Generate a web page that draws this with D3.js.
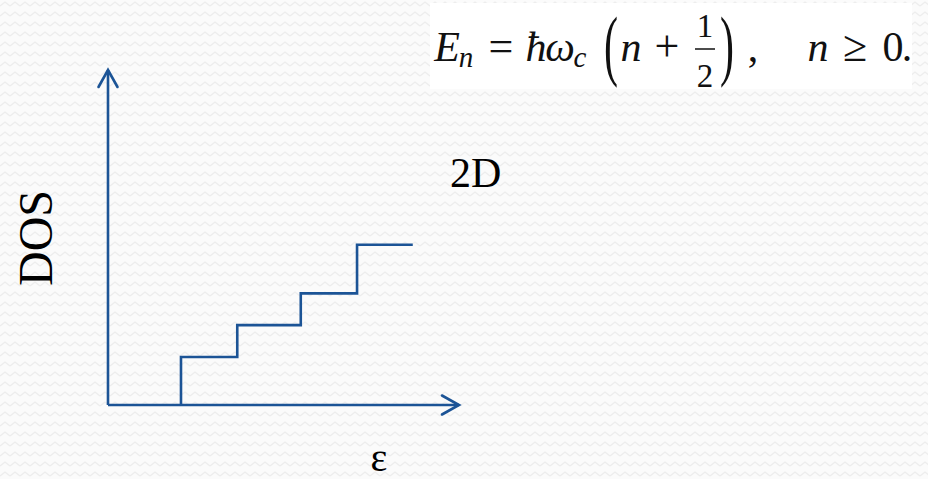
<!DOCTYPE html>
<html lang="en">
<head>
    <meta charset="UTF-8">
    <title>2D density of states - Landau levels</title>
    <script src="https://cdn.jsdelivr.net/npm/d3@7"></script>
    <style>
        html, body { margin: 0; padding: 0; background: #fbfbfb; }
        svg { display: block; }
        .serif { font-family: "Liberation Serif", "DejaVu Serif", serif; }
    </style>
</head>
<body>
<svg id="chart" width="928" height="479"></svg>
<script>
    // data: energy (in units of the x axis) where each Landau level switches on,
    // and the DOS plateau height reached after each step
    const levelEnergy = [1.31, 2.32, 3.46, 4.47];
    const levelDOS = [0.86, 1.43, 2.0, 2.87];
    const stepEnd = 5.47;
    const xMax = 6.3;   // arrow tip of the energy axis
    const yMax = 6.0;   // arrow tip of the DOS axis

    const axisLabelX = "ε";
    const axisLabelY = "DOS";
    const panelLabel = "2D";

    const blue = "#1c5496";
    const W = 928, H = 479;

    const svg = d3.select("#chart");

    // background with the faint zigzag texture
    const defs = svg.append("defs");
    const pat = defs.append("pattern")
        .attr("id", "zig").attr("patternUnits", "userSpaceOnUse")
        .attr("width", 10).attr("height", 10);
    pat.append("rect").attr("width", 10).attr("height", 10).attr("fill", "#fbfbfb");
    pat.append("path").attr("d", "M0,6L5,2L10,6")
        .attr("fill", "none").attr("stroke", "#ededed").attr("stroke-width", 1.3);
    svg.append("rect").attr("width", W).attr("height", H).attr("fill", "url(#zig)");

    // arrow head (open chevron)
    defs.append("marker")
        .attr("id", "arr").attr("markerUnits", "userSpaceOnUse")
        .attr("viewBox", "-22 -14 26 28").attr("markerWidth", 26).attr("markerHeight", 28)
        .attr("refX", 0).attr("refY", 0).attr("orient", "auto")
        .append("path").attr("d", "M-17,-9.5L0,0L-17,9.5")
        .attr("fill", "none").attr("stroke", blue).attr("stroke-width", 2.6)
        .attr("stroke-linecap", "round");

    const x = d3.scaleLinear().domain([0, xMax]).range([108, 459]);
    const y = d3.scaleLinear().domain([0, yMax]).range([405, 70]);

    // axes
    svg.append("line")
        .attr("x1", x(0)).attr("y1", y(0)).attr("x2", x(xMax)).attr("y2", y(0))
        .attr("stroke", blue).attr("stroke-width", 2.6).attr("marker-end", "url(#arr)");
    svg.append("line")
        .attr("x1", x(0)).attr("y1", y(0)).attr("x2", x(0)).attr("y2", y(yMax))
        .attr("stroke", blue).attr("stroke-width", 2.6).attr("marker-end", "url(#arr)");

    // staircase DOS
    const pts = [[levelEnergy[0], 0]];
    levelEnergy.forEach((e, i) => pts.push([e, levelDOS[i]]));
    pts.push([stepEnd, levelDOS[levelDOS.length - 1]]);

    const line = d3.line()
        .x(d => x(d[0])).y(d => y(d[1]))
        .curve(d3.curveStepAfter);
    svg.append("path")
        .attr("d", line(pts))
        .attr("fill", "none").attr("stroke", blue).attr("stroke-width", 2.6)
        .attr("stroke-linejoin", "miter");

    // axis labels
    svg.append("text").attr("class", "serif")
        .attr("transform", "translate(52,238) rotate(-90)")
        .attr("text-anchor", "middle").attr("font-size", 48)
        .text(axisLabelY);
    svg.append("text").attr("class", "serif")
        .attr("x", 379).attr("y", 471).attr("text-anchor", "middle")
        .attr("font-size", 40).text(axisLabelX);
    svg.append("text").attr("class", "serif")
        .attr("x", 450).attr("y", 187).attr("font-size", 42)
        .text(panelLabel);

    // formula box: E_n = ħω_c (n + 1/2),  n ≥ 0.
    svg.append("rect").attr("x", 430).attr("y", 3).attr("width", 482).attr("height", 86)
        .attr("fill", "#ffffff");
    const f = svg.append("g").attr("class", "serif").attr("fill", "#111");
    const glyphs = [
        {t: "E", x: 447, y: 61, s: 42, it: true},
        {t: "n", x: 466, y: 67, s: 29, it: true},
        {t: "=", x: 501, y: 61, s: 44},
        {t: "ħ", x: 536, y: 61, s: 42, it: true},
        {t: "ω", x: 560, y: 61, s: 42, it: true},
        {t: "c", x: 580, y: 67, s: 29, it: true},
        {t: "n", x: 631, y: 61, s: 42, it: true},
        {t: "+", x: 667, y: 61, s: 44},
        {t: "1", x: 705, y: 37, s: 33},
        {t: "2", x: 705, y: 87, s: 33},
        {t: ",", x: 753, y: 61, s: 42},
        {t: "n", x: 818, y: 61, s: 42, it: true},
        {t: "≥", x: 855, y: 61, s: 44},
        {t: "0", x: 893, y: 61, s: 42},
        {t: ".", x: 907, y: 61, s: 42}
    ];
    f.selectAll("text.g").data(glyphs).join("text")
        .attr("class", "g")
        .attr("x", d => d.x).attr("y", d => d.y)
        .attr("text-anchor", "middle").attr("font-size", d => d.s)
        .attr("font-style", d => d.it ? "italic" : "normal")
        .text(d => d.t);
    // tall parentheses
    [{t: "(", x: 611}, {t: ")", x: 727}].forEach(p => {
        f.append("text")
            .attr("transform", `translate(${p.x},71) scale(1,1.88)`)
            .attr("text-anchor", "middle").attr("font-size", 42)
            .text(p.t);
    });
    // fraction bar
    f.append("line").attr("x1", 695).attr("x2", 715).attr("y1", 49).attr("y2", 49)
        .attr("stroke", "#111").attr("stroke-width", 1.5);
</script>
</body>
</html>
